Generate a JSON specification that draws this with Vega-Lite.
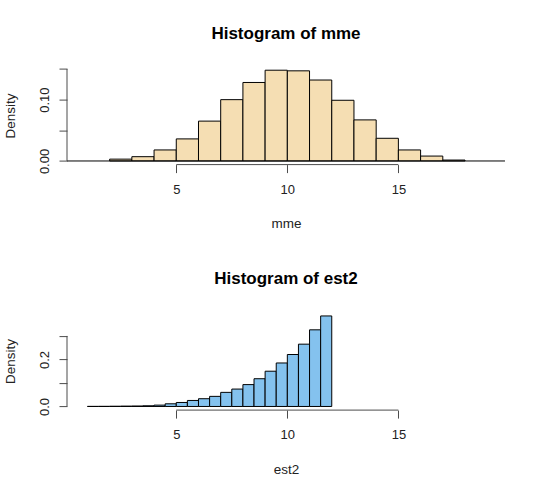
{
  "$schema": "https://vega.github.io/schema/vega-lite/v6.json",
  "background": "white",
  "padding": {"left": 3, "top": 24.6, "right": 5, "bottom": 5},
  "config": {
    "view": {"stroke": null},
    "font": "Liberation Sans",
    "axis": {
      "grid": false,
      "domain": false,
      "tickColor": "#4a4a4a",
      "tickWidth": 1,
      "tickSize": 8,
      "labelOverlap": false,
      "labelFont": "Liberation Sans",
      "labelFontSize": 13,
      "labelColor": "#222",
      "titleFont": "Liberation Sans",
      "titleFontSize": 13.5,
      "titleFontWeight": "normal",
      "titleColor": "#222"
    },
    "axisX": {"labelPadding": 10.5, "titlePadding": 20.7, "labelFlush": false},
    "axisY": {
      "labelAngle": -90,
      "labelAlign": "center",
      "labelBaseline": "alphabetic",
      "labelPadding": 11,
      "titlePadding": 21,
      "labelFlush": false
    },
    "title": {
      "font": "Liberation Sans",
      "fontSize": 17,
      "fontWeight": "bold",
      "color": "#000",
      "frame": "group",
      "anchor": "middle",
      "baseline": "alphabetic",
      "offset": 23.7
    }
  },
  "datasets": {
    "mme": [
      {"bin_start": 2, "bin_end": 3, "density": 0.003},
      {"bin_start": 3, "bin_end": 4, "density": 0.007},
      {"bin_start": 4, "bin_end": 5, "density": 0.018},
      {"bin_start": 5, "bin_end": 6, "density": 0.036},
      {"bin_start": 6, "bin_end": 7, "density": 0.065},
      {"bin_start": 7, "bin_end": 8, "density": 0.1},
      {"bin_start": 8, "bin_end": 9, "density": 0.128},
      {"bin_start": 9, "bin_end": 10, "density": 0.148},
      {"bin_start": 10, "bin_end": 11, "density": 0.147},
      {"bin_start": 11, "bin_end": 12, "density": 0.132},
      {"bin_start": 12, "bin_end": 13, "density": 0.099},
      {"bin_start": 13, "bin_end": 14, "density": 0.067},
      {"bin_start": 14, "bin_end": 15, "density": 0.037},
      {"bin_start": 15, "bin_end": 16, "density": 0.018},
      {"bin_start": 16, "bin_end": 17, "density": 0.008},
      {"bin_start": 17, "bin_end": 18, "density": 0.0015}
    ],
    "est2": [
      {"bin_start": 1, "bin_end": 1.5, "density": 0.0004},
      {"bin_start": 1.5, "bin_end": 2, "density": 0.0006},
      {"bin_start": 2, "bin_end": 2.5, "density": 0.001},
      {"bin_start": 2.5, "bin_end": 3, "density": 0.0015},
      {"bin_start": 3, "bin_end": 3.5, "density": 0.002},
      {"bin_start": 3.5, "bin_end": 4, "density": 0.003},
      {"bin_start": 4, "bin_end": 4.5, "density": 0.0057},
      {"bin_start": 4.5, "bin_end": 5, "density": 0.0114},
      {"bin_start": 5, "bin_end": 5.5, "density": 0.017},
      {"bin_start": 5.5, "bin_end": 6, "density": 0.0256},
      {"bin_start": 6, "bin_end": 6.5, "density": 0.033},
      {"bin_start": 6.5, "bin_end": 7, "density": 0.043},
      {"bin_start": 7, "bin_end": 7.5, "density": 0.06},
      {"bin_start": 7.5, "bin_end": 8, "density": 0.074},
      {"bin_start": 8, "bin_end": 8.5, "density": 0.093},
      {"bin_start": 8.5, "bin_end": 9, "density": 0.118},
      {"bin_start": 9, "bin_end": 9.5, "density": 0.15},
      {"bin_start": 9.5, "bin_end": 10, "density": 0.185},
      {"bin_start": 10, "bin_end": 10.5, "density": 0.221},
      {"bin_start": 10.5, "bin_end": 11, "density": 0.265},
      {"bin_start": 11, "bin_end": 11.5, "density": 0.326},
      {"bin_start": 11.5, "bin_end": 12, "density": 0.385}
    ]
  },
  "bounds": "flush",
  "spacing": 147.5,
  "vconcat": [
    {
      "title": "Histogram of mme",
      "width": 438,
      "height": 98,
      "layer": [
        {
          "data": {"name": "mme"},
          "mark": {"type": "rect", "fill": "#F5DEB3", "stroke": "#000", "strokeWidth": 1},
          "encoding": {
            "x": {
              "field": "bin_start",
              "type": "quantitative",
              "scale": {"domain": [0.08, 19.8], "nice": false, "zero": false},
              "axis": {"values": [5, 10, 15], "title": "mme"}
            },
            "x2": {"field": "bin_end"},
            "y": {
              "field": "density",
              "type": "quantitative",
              "scale": {"domain": [-0.0059, 0.1539], "nice": false, "zero": false},
              "axis": {
                "values": [0, 0.05, 0.1, 0.15],
                "title": "Density",
                "labelExpr": "datum.value == 0.05 || datum.value == 0.15 ? '' : format(datum.value, '.2f')"
              }
            },
            "y2": {"datum": 0}
          }
        },
        {
          "data": {"values": [{"from": 0.08, "to": 19.8, "level": 0}]},
          "mark": {"type": "rule", "color": "#000", "strokeWidth": 1},
          "encoding": {
            "x": {"field": "from", "type": "quantitative", "axis": {"values": [5, 10, 15], "title": "mme"}},
            "x2": {"field": "to"},
            "y": {
              "field": "level",
              "type": "quantitative",
              "axis": {
                "values": [0, 0.05, 0.1, 0.15],
                "title": "Density",
                "labelExpr": "datum.value == 0.05 || datum.value == 0.15 ? '' : format(datum.value, '.2f')"
              }
            }
          }
        },
        {
          "data": {"values": [{"from": 5, "to": 15, "level": -0.0059}]},
          "mark": {"type": "rule", "color": "#4a4a4a", "strokeWidth": 1},
          "encoding": {
            "x": {"field": "from", "type": "quantitative", "axis": {"values": [5, 10, 15], "title": "mme"}},
            "x2": {"field": "to"},
            "y": {
              "field": "level",
              "type": "quantitative",
              "axis": {
                "values": [0, 0.05, 0.1, 0.15],
                "title": "Density",
                "labelExpr": "datum.value == 0.05 || datum.value == 0.15 ? '' : format(datum.value, '.2f')"
              }
            }
          }
        },
        {
          "data": {"values": [{"at": 0.08, "from": 0, "to": 0.15}]},
          "mark": {"type": "rule", "color": "#4a4a4a", "strokeWidth": 1},
          "encoding": {
            "x": {"field": "at", "type": "quantitative", "axis": {"values": [5, 10, 15], "title": "mme"}},
            "y": {
              "field": "from",
              "type": "quantitative",
              "axis": {
                "values": [0, 0.05, 0.1, 0.15],
                "title": "Density",
                "labelExpr": "datum.value == 0.05 || datum.value == 0.15 ? '' : format(datum.value, '.2f')"
              }
            },
            "y2": {"field": "to"}
          }
        }
      ]
    },
    {
      "title": "Histogram of est2",
      "width": 438,
      "height": 98,
      "layer": [
        {
          "data": {"name": "est2"},
          "mark": {"type": "rect", "fill": "#84C2EE", "stroke": "#000", "strokeWidth": 1},
          "encoding": {
            "x": {
              "field": "bin_start",
              "type": "quantitative",
              "scale": {"domain": [0.08, 19.8], "nice": false, "zero": false},
              "axis": {"values": [5, 10, 15], "title": "est2"}
            },
            "x2": {"field": "bin_end"},
            "y": {
              "field": "density",
              "type": "quantitative",
              "scale": {"domain": [-0.0154, 0.4014], "nice": false, "zero": false},
              "axis": {
                "values": [0, 0.1, 0.2, 0.3],
                "title": "Density",
                "labelExpr": "datum.value == 0.1 || datum.value == 0.3 ? '' : format(datum.value, '.1f')"
              }
            },
            "y2": {"datum": 0}
          }
        },
        {
          "data": {"values": [{"from": 5, "to": 15, "level": -0.0154}]},
          "mark": {"type": "rule", "color": "#4a4a4a", "strokeWidth": 1},
          "encoding": {
            "x": {"field": "from", "type": "quantitative", "axis": {"values": [5, 10, 15], "title": "est2"}},
            "x2": {"field": "to"},
            "y": {
              "field": "level",
              "type": "quantitative",
              "axis": {
                "values": [0, 0.1, 0.2, 0.3],
                "title": "Density",
                "labelExpr": "datum.value == 0.1 || datum.value == 0.3 ? '' : format(datum.value, '.1f')"
              }
            }
          }
        },
        {
          "data": {"values": [{"at": 0.08, "from": 0, "to": 0.3}]},
          "mark": {"type": "rule", "color": "#4a4a4a", "strokeWidth": 1},
          "encoding": {
            "x": {"field": "at", "type": "quantitative", "axis": {"values": [5, 10, 15], "title": "est2"}},
            "y": {
              "field": "from",
              "type": "quantitative",
              "axis": {
                "values": [0, 0.1, 0.2, 0.3],
                "title": "Density",
                "labelExpr": "datum.value == 0.1 || datum.value == 0.3 ? '' : format(datum.value, '.1f')"
              }
            },
            "y2": {"field": "to"}
          }
        }
      ]
    }
  ]
}
